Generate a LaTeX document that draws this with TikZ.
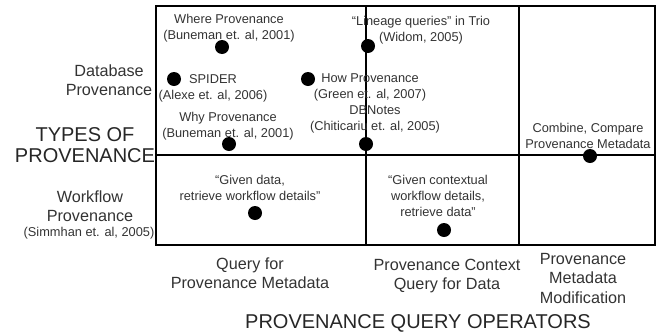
\documentclass[tikz,border=0pt]{standalone}
\usepackage{fontspec}
\setmainfont{Liberation Sans}
\begin{document}
\begin{tikzpicture}
            [x=1pt, y=-1pt,
             myDot/.style={circle,
                        fill=black,
                        inner sep=0pt,
                        minimum size=14pt},
             smallText/.style={align=center,
                        inner sep=0pt,
                        text=black!80,
                        font=\fontsize{12.8}{16}\selectfont},
             axisText/.style={align=center,
                        inner sep=0pt,
                        text=black!80,
                        font=\fontsize{16.2}{19.5}\selectfont},
             titleText/.style={align=center,
                        inner sep=0pt,
                        text=black!85,
                        font=\fontsize{20}{21}\selectfont},
             gridLine/.style={line width=1.1pt}]

            \useasboundingbox (0,0) rectangle (658,335);

            % grid
            \coordinate (topLeft) at (156,6);
            \coordinate (bottomRight) at (655,245);
            \coordinate (midLeft) at (156,155);
            \coordinate (midRight) at (655,155);
            \coordinate (colOneTop) at (366,6);
            \coordinate (colOneBottom) at (366,245);
            \coordinate (colTwoTop) at (519,6);
            \coordinate (colTwoBottom) at (519,245);

            \draw [gridLine] (topLeft) rectangle (bottomRight);
            \draw [gridLine] (midLeft) -- (midRight);
            \draw [gridLine] (colOneTop) -- (colOneBottom);
            \draw [gridLine] (colTwoTop) -- (colTwoBottom);

            % axis labels
            \node[axisText] (databaseProvenance) at (109, 80) {Database\\Provenance};
            \node[axisText] (workflowProvenance) at (90, 206) {Workflow\\Provenance};
            \node[smallText] (simmhan) at (89, 233) {(Simmhan et. al, 2005)};
            \node[titleText] (typesOfProvenance) at (85, 145) {TYPES OF\\PROVENANCE};

            \node[axisText] (queryMetadata) at (250, 273) {Query for\\Provenance Metadata};
            \node[axisText] (contextQuery) at (447, 276) {Provenance Context\\Query for Data};
            \node[axisText] (metadataModification) at (583, 278) {Provenance\\Metadata\\Modification};
            \node[titleText] (queryOperators) at (418, 323) {PROVENANCE QUERY OPERATORS};

            % systems
            \node[smallText] (whereProvenance) at (229, 28) {Where Provenance\\(Buneman et. al, 2001)};
            \node[smallText] (spider) at (213, 88) {SPIDER\\(Alexe et. al, 2006)};
            \node[smallText] (whyProvenance) at (228, 126) {Why Provenance\\(Buneman et. al, 2001)};
            \node[smallText] (howProvenance) at (370, 87) {How Provenance\\(Green et. al, 2007)};
            \node[smallText] (lineageQueries) at (421, 30) {“Lineage queries” in Trio\\(Widom, 2005)};
            \node[smallText] (dbNotes) at (375, 119) {DBNotes\\(Chiticariu et. al, 2005)};
            \node[smallText] (combineCompare) at (588, 136) {Combine, Compare\\Provenance Metadata};
            \node[smallText] (givenData) at (250, 188) {“Given data,\\retrieve workflow details”};
            \node[smallText] (givenContext) at (438, 196) {“Given contextual\\workflow details,\\retrieve data”};

            \node[myDot] (whereDot) at (222, 47) {};
            \node[myDot] (spiderDot) at (174, 79) {};
            \node[myDot] (howDot) at (308, 79) {};
            \node[myDot] (whyDot) at (229, 144) {};
            \node[myDot] (lineageDot) at (368, 46) {};
            \node[myDot] (dbNotesDot) at (366, 144) {};
            \node[myDot] (combineDot) at (590, 156) {};
            \node[myDot] (givenDataDot) at (255, 213) {};
            \node[myDot] (givenContextDot) at (444, 230) {};
        \end{tikzpicture}
\end{document}
